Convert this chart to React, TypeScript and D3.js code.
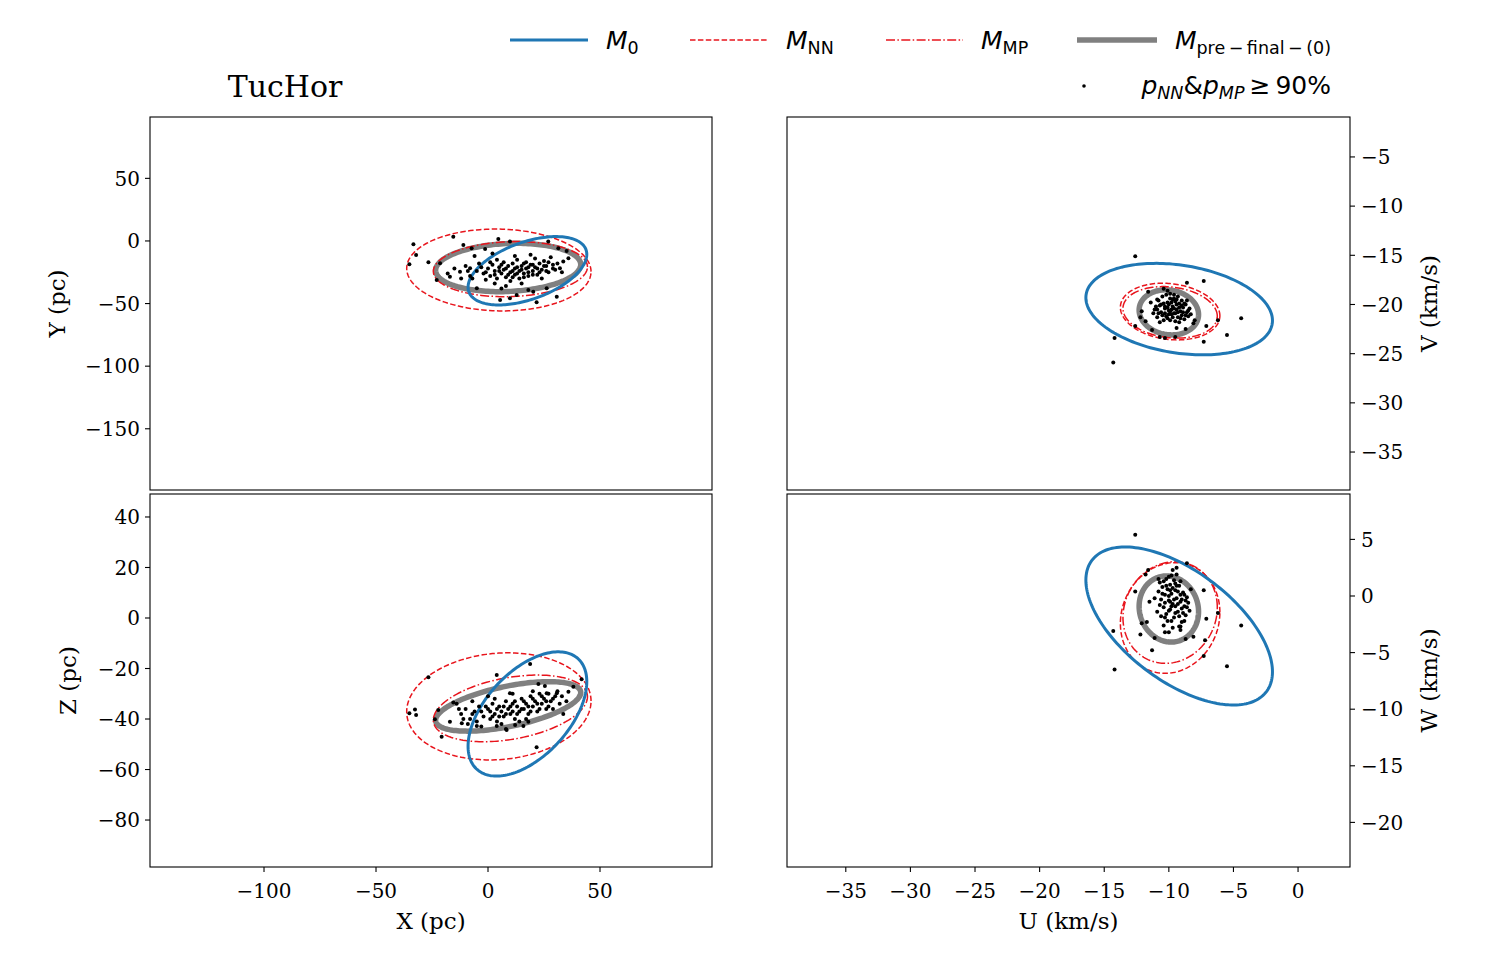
import React from 'react';
import * as d3 from 'd3';

// member stars
const xyStars = [
  [-33.3, -2.6], [-32.1, -11.2], [-35.1, -18.6], [-15.5, 3.4], [-11, -3.2], [-26.6, -17], [4.6, 1.6],
  [9.8, -0.5], [26.9, -0.5], [31.4, -5.9], [35.1, -8], [35.9, -13.8], [32.1, -21.8], [30.7, -44.5],
  [21.7, -49], [9.8, -45.8], [5.4, -47.1], [-21.4, -17.8], [-17, -28.5], [-12.5, -24.5], [-22.9, -31.2],
  [-5, -37.8], [12.8, -43.1], [20.2, -40.5], [26.2, -37.8], [18, -39.1], [-7.3, -5.9], [-1.3, -6.4],
  [-8, -21.8], [33.6, -16.5],
  [-2, -26], [0, -22], [1, -28], [2, -19], [3, -24], [4, -30], [5, -21], [6, -26], [7, -17], [7, -23],
  [8, -29], [9, -20], [10, -25], [10, -32], [11, -18], [12, -22], [12, -27], [13, -15], [14, -24],
  [14, -30], [15, -20], [16, -26], [17, -17], [17, -22], [18, -28], [19, -19], [20, -24], [21, -14],
  [21, -21], [22, -27], [23, -18], [24, -23], [25, -16], [26, -20], [27, -25], [28, -13], [29, -19],
  [-5, -24], [-8, -28], [-10, -20], [-4, -18], [3, -34], [8, -36], [15, -34], [-1, -31], [12, -12],
  [19, -11], [24, -30], [30, -23], [-12, -30], [-15, -22], [-18, -26], [-6, -12], [2, -10], [6, -38],
  [-3, -21], [-1, -25], [1, -17], [3, -27], [5, -24], [6, -19], [8, -22], [9, -27], [11, -24], [11, -29],
  [13, -21], [13, -26], [15, -23], [16, -18], [16, -29], [18, -21], [18, -25], [20, -19], [20, -27],
  [22, -22], [23, -25], [25, -20], [26, -24], [27, -17], [29, -22], [31, -18], [33, -25], [-7, -30],
  [-9, -24], [4, -15],
];

const xzStars = [
  [-26.6, -23.5], [-35.1, -37.7], [-32.6, -36.2], [-32.1, -38.4], [3.9, -22.6], [18.8, -18.2],
  [-20.7, -47], [21.7, -51.2], [-22.2, -36.4], [-23.7, -40.1], [-17, -41.1], [-15.5, -33.5],
  [-11.7, -41.7], [-5, -42.8], [3.9, -42.8], [8.3, -44.4], [12.1, -42.4], [15.8, -42.8], [18, -41.1],
  [22.5, -26.1], [25.4, -26.9], [33.6, -38], [38.1, -27.2], [41.8, -24.3], [35.9, -29.2], [30.7, -29.8],
  [26.2, -29.8], [9.8, -29.8],
  [-12, -38], [-10, -36], [-8, -40], [-6, -37], [-4, -35], [-2, -39], [0, -36], [1, -40], [2, -34],
  [3, -38], [4, -41], [5, -35], [6, -37], [7, -39], [8, -33], [9, -36], [10, -38], [11, -34], [12, -40],
  [13, -35], [14, -37], [15, -32], [16, -36], [17, -34], [18, -38], [19, -31], [20, -35], [21, -33],
  [22, -37], [23, -30], [24, -34], [25, -32], [26, -36], [27, -30], [28, -33], [30, -31], [32, -34],
  [-14, -34], [-9, -42], [0, -31], [6, -42], [14, -41], [20, -29], [29, -36], [11, -30], [-3, -43],
  [3, -32], [17, -40], [8, -44], [-7, -33],
  [-11, -40], [-7, -38], [-5, -41], [-3, -37], [-1, -35], [1, -37], [2, -39], [4, -36], [5, -39],
  [7, -35], [8, -38], [10, -35], [11, -37], [12, -33], [13, -38], [15, -36], [16, -33], [18, -35],
  [19, -37], [20, -32], [22, -34], [23, -36], [24, -31], [26, -33], [27, -35], [29, -32], [31, -29],
  [33, -31], [35, -33], [-13, -36],
];

const uvStars = [
  [-12.6, -15.1], [-8.6, -17.8], [-7.3, -17.6], [-4.4, -21.4], [-5.5, -23.1], [-7.3, -23.8],
  [-14.2, -23.4], [-14.3, -25.9], [-11.6, -18.7], [-10.4, -18.4], [-12.6, -22.2], [-11.8, -21.7],
  [-11.3, -22.6], [-10.7, -23.3], [-9.4, -22.4], [-8.7, -22.5], [-8.1, -21.9], [-7.1, -22.2],
  [-6.2, -21.6], [-12.1, -20.7], [-12.2, -21.3], [-9.5, -23.3], [-10.3, -23.4], [-8, -21.6],
  [-10.9, -19.5],
  [-11, -20.2], [-10.8, -19.6], [-10.6, -20.8], [-10.5, -19.2], [-10.3, -20.4], [-10.2, -21.2],
  [-10.1, -19.8], [-10, -20.6], [-9.9, -19.4], [-9.8, -21], [-9.7, -20.2], [-9.6, -20.9], [-9.5, -19.7],
  [-9.4, -20.5], [-9.3, -21.3], [-9.2, -19.9], [-9.1, -20.7], [-9, -21.1], [-8.9, -20.3], [-8.8, -21.5],
  [-8.7, -20], [-8.6, -20.8], [-8.5, -21.2], [-11.2, -20.9], [-10.9, -21.3], [-10.4, -21.6],
  [-9.9, -18.9], [-10.2, -19], [-9.6, -19], [-9, -19.6], [-8.4, -20.4], [-8.3, -21], [-11.4, -19.8],
  [-10.7, -21.8], [-9.5, -21.7], [-10.6, -20], [-10, -20], [-9.4, -20], [-9.8, -20.5], [-10.3, -20.9],
  [-9.2, -21.8], [-8.6, -19.6], [-11.1, -20.5], [-9.7, -19.5], [-10.1, -21.4],
  [-10.9, -20.5], [-10.7, -20.1], [-10.4, -19.9], [-10.3, -20.2], [-10.1, -20.3], [-10, -21],
  [-9.9, -20.7], [-9.8, -19.8], [-9.7, -21.3], [-9.6, -20.4], [-9.5, -20.9], [-9.4, -19.5],
  [-9.3, -20.8], [-9.2, -20.3], [-9.1, -21.4], [-9, -20.1], [-8.9, -20.8], [-8.8, -19.9],
  [-8.7, -21.1], [-9.9, -21.6], [-10.5, -21.1], [-10.8, -20.9], [-9.6, -19.4], [-9.3, -19.2],
  [-10.1, -18.6], [-8.5, -20.6],
];

const uwStars = [
  [-12.6, 5.4], [-8.6, 2.9], [-14.3, -3.1], [-14.2, -6.5], [-5.5, -6.2], [-4.4, -2.6], [-6.2, -1.5],
  [-7.2, -3.9], [-7.3, -5.3], [-11.3, -4.8], [-12.2, -3.4], [-12.1, -2.4], [-12.6, 0.4], [-11.6, 2.3],
  [-11.8, 1.9], [-10.8, 1.5], [-10.4, 1.3], [-7.3, 0.5], [-7.1, -2], [-8.1, -3.6], [-8.7, -3.8],
  [-11.1, -3.7], [-10.3, -3.2], [-10, -3.2], [-9.1, -2.7], [-11.5, -0.5], [-11.7, -2.3],
  [-10.8, 0.4], [-10.6, -0.3], [-10.5, 0.8], [-10.4, -1], [-10.3, 0.1], [-10.2, -1.6], [-10.1, 0.6],
  [-10, -0.4], [-9.9, 1], [-9.9, -1.2], [-9.8, 0.2], [-9.7, -0.7], [-9.6, 1.4], [-9.6, -1.9], [-9.5, 0.5],
  [-9.4, -0.2], [-9.3, -1.4], [-9.2, 0.9], [-9.1, -0.5], [-9, -1.1], [-8.9, 0.3], [-8.8, -0.9],
  [-8.7, -1.7], [-8.6, -0.1], [-8.5, -0.6], [-10.9, -1.4], [-10.7, 1.2], [-10.1, -2.2], [-9.8, 1.8],
  [-9.4, 1.9], [-9, -2.3], [-8.4, -1.3], [-8.3, 0.6], [-11.1, -0.2], [-10.4, -2.6], [-9.7, -2.8],
  [-9.2, -2.7], [-10, 0], [-9.5, -0.9], [-9.9, -0.5], [-10.2, 1.5], [-9.3, 0.4], [-9.1, 1.3],
  [-8.8, -2.2], [-10.6, -1.8],
  [-10.7, -0.8], [-10.5, 0.2], [-10.3, -0.6], [-10.2, 0.9], [-10, -1.3], [-9.9, 0.5], [-9.8, -0.9],
  [-9.7, 0.7], [-9.6, -0.3], [-9.5, -1.5], [-9.4, 0.9], [-9.3, -0.7], [-9.2, -1.8], [-9.1, 0.1],
  [-9, -0.3], [-8.9, -1.5], [-8.8, 0.1], [-8.7, -0.4], [-9.7, 2.3], [-9.4, 2.5], [-10, 1.7],
  [-9.1, -3], [-9.8, -2.2], [-10.3, -1.9], [-8.6, -1], [-9.5, 1.1],
];

// ellipses: [centre x, centre y, half-width, half-height, correlation]
const m0Ells = { xy: [17.6, -23.8, 26.5, 27.3, 0.48], xz: [17.6, -38, 26.5, 24.6, 0.52], uv: [-9.2, -20.47, 7.22, 4.65, -0.25], uw: [-9.2, -2.65, 7.22, 6.98, -0.58] };
const nnElls = { xy: [4.85, -23.2, 41.15, 32.7, -0.04], xz: [4.85, -35, 41.15, 21.2, 0.1], uv: [-9.9, -20.72, 3.85, 2.88, -0.15], uw: [-9.9, -1.94, 3.85, 4.89, 0.1] };
const mpElls = { xy: [10, -22.5, 34.4, 22, 0.08], xz: [10, -35.8, 34.4, 13.2, 0.35], uv: [-9.9, -20.8, 3.65, 2.62, -0.15], uw: [-9.9, -1.46, 3.65, 4.49, 0.1] };
const preElls = { xy: [9, -21.2, 32.4, 19.3, 0.12], xz: [9, -35, 32.4, 9.8, 0.56], uv: [-10, -20.8, 2.3, 2.29, -0.1], uw: [-10, -1.15, 2.3, 2.92, -0.08] };

const xTicks = [-100, -50, 0, 50];
const yTicks = [-150, -100, -50, 0, 50];
const zTicks = [-80, -60, -40, -20, 0, 20, 40];
const uTicks = [-35, -30, -25, -20, -15, -10, -5, 0];
const vTicks = [-35, -30, -25, -20, -15, -10, -5];
const wTicks = [-20, -15, -10, -5, 0, 5];

const SERIF = 'DejaVu Serif';
const SANS = 'DejaVu Sans';
const RED = '#e8141c';
const BLUE = '#1f77b4';
const GREY = '#808080';

const styles = {
  pre: { stroke: GREY, strokeWidth: 5.5 },
  nn: { stroke: RED, strokeWidth: 1.5, strokeDasharray: '5.5,2.4' },
  mp: { stroke: RED, strokeWidth: 1.5, strokeDasharray: '9,2.4,1.5,2.4' },
  m0: { stroke: BLUE, strokeWidth: 3 },
};

const panels = [
  { key: 'xy', box: [150, 117, 712, 490], xDom: [-150.9, 100], yDom: [-198.9, 99], stars: xyStars, yTicks: yTicks, xTicks: null, side: 'left', yLabel: 'Y (pc)', xLabel: null },
  { key: 'xz', box: [150, 494, 712, 867], xDom: [-150.9, 100], yDom: [-98.6, 49.1], stars: xzStars, yTicks: zTicks, xTicks: xTicks, side: 'left', yLabel: 'Z (pc)', xLabel: 'X (pc)' },
  { key: 'uv', box: [787, 117, 1350, 490], xDom: [-39.55, 4.02], yDom: [-38.86, -0.94], stars: uvStars, yTicks: vTicks, xTicks: null, side: 'right', yLabel: 'V (km/s)', xLabel: null },
  { key: 'uw', box: [787, 494, 1350, 867], xDom: [-39.55, 4.02], yDom: [-23.94, 9.01], stars: uwStars, yTicks: wTicks, xTicks: uTicks, side: 'right', yLabel: 'W (km/s)', xLabel: 'U (km/s)' },
];

const fmt = (v) => String(v).replace('-', '\u2212');

function ellipsePath(e, sx, sy) {
  const [cx, cy, hw, hh, rho] = e;
  const k = Math.sqrt(1 - rho * rho);
  const pts = d3.range(0, 360, 2).map((t) => {
    const a = (t * Math.PI) / 180;
    return [sx(cx + hw * Math.cos(a)), sy(cy + hh * (rho * Math.cos(a) + k * Math.sin(a)))];
  });
  return d3.line()(pts) + 'Z';
}

function Panel({ p }) {
  const [x0, y0, x1, y1] = p.box;
  const sx = d3.scaleLinear().domain(p.xDom).range([x0, x1]);
  const sy = d3.scaleLinear().domain(p.yDom).range([y1, y0]);
  const right = p.side === 'right';
  const tx = right ? x1 : x0;
  const ylx = right ? 1437 : p.key === 'xy' ? 65 : 76;
  const ylY = (y0 + y1) / 2;
  return (
    <g>
      {[['pre', preElls], ['nn', nnElls], ['mp', mpElls], ['m0', m0Ells]].map(([m, ells]) => (
        <path key={m} d={ellipsePath(ells[p.key], sx, sy)} fill="none" {...styles[m]} />
      ))}
      {p.stars.map((d, i) => (
        <circle key={i} cx={sx(d[0])} cy={sy(d[1])} r={2} fill="black" />
      ))}
      <rect x={x0} y={y0} width={x1 - x0} height={y1 - y0} fill="none" stroke="black" strokeWidth={1.1} />
      {p.yTicks.map((t) => (
        <g key={t}>
          <line x1={tx} x2={right ? tx + 5 : tx - 5} y1={sy(t)} y2={sy(t)} stroke="black" strokeWidth={1.1} />
          <text x={right ? tx + 11 : tx - 10} y={sy(t)} dy="0.36em" textAnchor={right ? 'start' : 'end'}
            fontFamily={SERIF} fontSize={20}>{fmt(t)}</text>
        </g>
      ))}
      {p.xTicks && p.xTicks.map((t) => (
        <g key={t}>
          <line x1={sx(t)} x2={sx(t)} y1={y1} y2={y1 + 5} stroke="black" strokeWidth={1.1} />
          <text x={sx(t)} y={898} textAnchor="middle" fontFamily={SERIF} fontSize={20}>{fmt(t)}</text>
        </g>
      ))}
      <text transform={`translate(${ylx},${ylY}) rotate(-90)`} textAnchor="middle" fontFamily={SERIF} fontSize={23}>{p.yLabel}</text>
      {p.xLabel && (
        <text x={(x0 + x1) / 2} y={929} textAnchor="middle" fontFamily={SERIF} fontSize={23}>{p.xLabel}</text>
      )}
    </g>
  );
}

function Legend() {
  const fs = 25;
  const sub = 17.5;
  const ly = 40;
  const ty = 49;
  return (
    <g fontFamily={SANS}>
      <line x1={510} x2={588} y1={ly} y2={ly} {...styles.m0} />
      <text x={606} y={ty} fontSize={fs}>
        <tspan fontStyle="italic">M</tspan><tspan fontSize={sub} dy={5}>0</tspan>
      </text>
      <line x1={690} x2={767} y1={ly} y2={ly} {...styles.nn} />
      <text x={786} y={ty} fontSize={fs}>
        <tspan fontStyle="italic">M</tspan><tspan fontSize={sub} dy={5}>NN</tspan>
      </text>
      <line x1={886} x2={963} y1={ly} y2={ly} {...styles.mp} />
      <text x={981} y={ty} fontSize={fs}>
        <tspan fontStyle="italic">M</tspan><tspan fontSize={sub} dy={5}>MP</tspan>
      </text>
      <line x1={1077} x2={1157} y1={ly} y2={ly} {...styles.pre} />
      <text x={1331} y={ty} fontSize={fs} textAnchor="end">
        <tspan fontStyle="italic">M</tspan><tspan fontSize={sub} dy={5}>{'pre\u2009\u2212\u2009final\u2009\u2212\u2009(0)'}</tspan>
      </text>
      <circle cx={1084} cy={86} r={1.8} fill="black" />
      <text x={1331} y={94} fontSize={fs} textAnchor="end">
        <tspan fontStyle="italic">p</tspan>
        <tspan fontStyle="italic" fontSize={sub} dy={5}>NN</tspan>
        <tspan dy={-5}>&amp;</tspan>
        <tspan fontStyle="italic">p</tspan>
        <tspan fontStyle="italic" fontSize={sub} dy={5}>MP</tspan>
        <tspan dy={-5}>{'\u2009\u2265\u200990%'}</tspan>
      </text>
    </g>
  );
}

export default function App() {
  return (
    <svg width={1500} height={975} style={{ position: 'absolute', left: 0, top: 0, background: 'white' }}>
      <rect width={1500} height={975} fill="white" />
      <text x={285} y={97} textAnchor="middle" fontFamily={SERIF} fontSize={30}>TucHor</text>
      <Legend />
      {panels.map((p) => <Panel key={p.key} p={p} />)}
    </svg>
  );
}
